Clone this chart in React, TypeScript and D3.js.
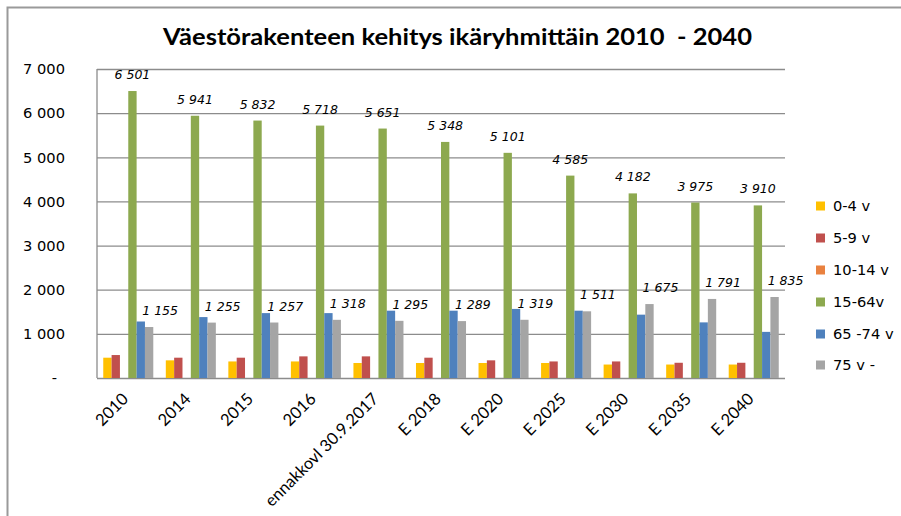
import { useEffect, useRef } from 'react'
import * as d3 from 'd3'

const categories = [
  '2010', '2014', '2015', '2016', 'ennakkovl 30.9.2017',
  'E 2018', 'E 2020', 'E 2025', 'E 2030', 'E 2035', 'E 2040',
]

const seriesNames = ['0-4 v', '5-9 v', '10-14 v', '15-64v', '65 -74 v', '75 v -']
const seriesColors = ['#FFC000', '#C0504D', '#E9813F', '#8DA94F', '#4F81BD', '#A5A5A5']

const age0to4 = [460, 400, 375, 375, 340, 340, 340, 340, 305, 305, 305]
const age5to9 = [520, 460, 460, 490, 490, 460, 400, 375, 375, 345, 345]
const age10to14 = [0, 0, 0, 0, 0, 0, 0, 0, 0, 0, 0]
const age15to64 = [6501, 5941, 5832, 5718, 5651, 5348, 5101, 4585, 4182, 3975, 3910]
const age65to74 = [1280, 1380, 1470, 1470, 1525, 1525, 1565, 1525, 1435, 1260, 1045]
const age75plus = [1155, 1255, 1257, 1318, 1295, 1289, 1319, 1511, 1675, 1791, 1835]

const yTicks = [0, 1000, 2000, 3000, 4000, 5000, 6000, 7000]

// which series get value labels (15-64v and 75 v -)
const labelled = [3, 5]

const W = 901
const H = 516

export default function App() {
  const ref = useRef<SVGSVGElement>(null)

  useEffect(() => {
    if (!ref.current) return
    d3.select(ref.current).selectAll('*').remove()
    render(ref.current)
  }, [])

  return (
    <svg
      ref={ref}
      width={W}
      height={H}
      style={{ position: 'absolute', left: 0, top: 0, background: '#fff', display: 'block' }}
    />
  )
}

function render(el: SVGSVGElement) {
  const series = [age0to4, age5to9, age10to14, age15to64, age65to74, age75plus]
  const margin = { top: 69, left: 97 }
  const inner = { w: 688, h: 309 }

  const svg = d3.select(el)

  // outer chart frame (cropped at right and bottom)
  svg.append('path')
    .attr('d', `M7.5,${H} L7.5,7.5 L${W},7.5`)
    .attr('fill', 'none')
    .attr('stroke', '#9a9a9a')
    .attr('stroke-width', 2)

  const g = svg.append('g').attr('transform', `translate(${margin.left},${margin.top})`)

  const x0 = d3.scaleBand<string>()
    .domain(categories)
    .range([0, inner.w])
    .paddingInner(0.2)
    .paddingOuter(0.1)

  const x1 = d3.scaleBand<number>()
    .domain(d3.range(seriesNames.length))
    .range([0, x0.bandwidth()])

  const y = d3.scaleLinear().domain([0, 7000]).range([inner.h, 0])

  // Grid
  g.append('g')
    .call(d3.axisLeft(y).tickValues(yTicks).tickSize(-inner.w).tickFormat(() => ''))
    .call((sel) => sel.select('.domain').remove())
    .call((sel) =>
      sel.selectAll('line')
        .attr('stroke', '#8c8c8c')
        .attr('stroke-width', 1.3)
    )

  // left axis line
  g.append('line')
    .attr('x1', 0).attr('x2', 0)
    .attr('y1', 0).attr('y2', inner.h)
    .attr('stroke', '#8c8c8c')
    .attr('stroke-width', 1.3)

  // Bars
  series.forEach((vals, si) => {
    vals.forEach((v, ci) => {
      if (!v) return
      const bx = x0(categories[ci])! + x1(si)!
      g.append('rect')
        .attr('x', bx)
        .attr('y', y(v))
        .attr('width', x1.bandwidth())
        .attr('height', inner.h - y(v))
        .attr('fill', seriesColors[si])
    })
  })

  // Value labels
  const fmt = (v: number) => d3.format(',')(v).replace(/,/g, ' ')
  labelled.forEach((si) => {
    series[si].forEach((v, ci) => {
      const cx = x0(categories[ci])! + x1(si)! + x1.bandwidth() / 2
      g.append('text')
        .attr('x', si === 5 ? cx + 11 : cx)
        .attr('y', y(v) - 12)
        .attr('text-anchor', 'middle')
        .attr('font-family', 'DejaVu Sans, Verdana, sans-serif')
        .attr('font-style', 'italic')
        .attr('font-size', 12.5)
        .attr('fill', '#000')
        .text(fmt(v))
    })
  })

  // Y tick labels
  yTicks.forEach((t) => {
    svg.append('text')
      .attr('x', t === 0 ? 57 : 65)
      .attr('y', margin.top + y(t))
      .attr('dy', '0.36em')
      .attr('text-anchor', 'end')
      .attr('font-family', 'DejaVu Sans, Verdana, sans-serif')
      .attr('font-size', 14.67)
      .attr('fill', '#000')
      .text(t === 0 ? '-' : fmt(t))
  })

  // X tick labels
  categories.forEach((c) => {
    const cx = margin.left + x0(c)! + x0.bandwidth() / 2 + 1
    const cy = margin.top + inner.h + 22
    svg.append('text')
      .attr('transform', `translate(${cx},${cy}) rotate(-45)`)
      .attr('text-anchor', 'end')
      .attr('font-family', 'Lato, Carlito, sans-serif')
      .attr('font-size', 16.5)
      .attr('fill', '#000')
      .text(c)
  })

  // Title
  svg.append('text')
    .attr('x', 457.5)
    .attr('y', 45)
    .attr('text-anchor', 'middle')
    .attr('font-family', 'Lato, Carlito, sans-serif')
    .attr('font-weight', 'bold')
    .attr('font-size', 23)
    .attr('textLength', 589)
    .attr('lengthAdjust', 'spacingAndGlyphs')
    .style('white-space', 'pre')
    .attr('fill', '#000')
    .text('Väestörakenteen kehitys ikäryhmittäin 2010  - 2040')

  // Legend
  const legendY = [206, 238, 270, 302, 334, 365]
  seriesNames.forEach((name, i) => {
    svg.append('rect')
      .attr('x', 816)
      .attr('y', legendY[i] - 4.5)
      .attr('width', 9)
      .attr('height', 9)
      .attr('fill', seriesColors[i])
    svg.append('text')
      .attr('x', 833)
      .attr('y', legendY[i])
      .attr('dy', '0.36em')
      .attr('font-family', 'DejaVu Sans, Verdana, sans-serif')
      .attr('font-size', 14.67)
      .attr('fill', '#000')
      .text(name)
  })
}
